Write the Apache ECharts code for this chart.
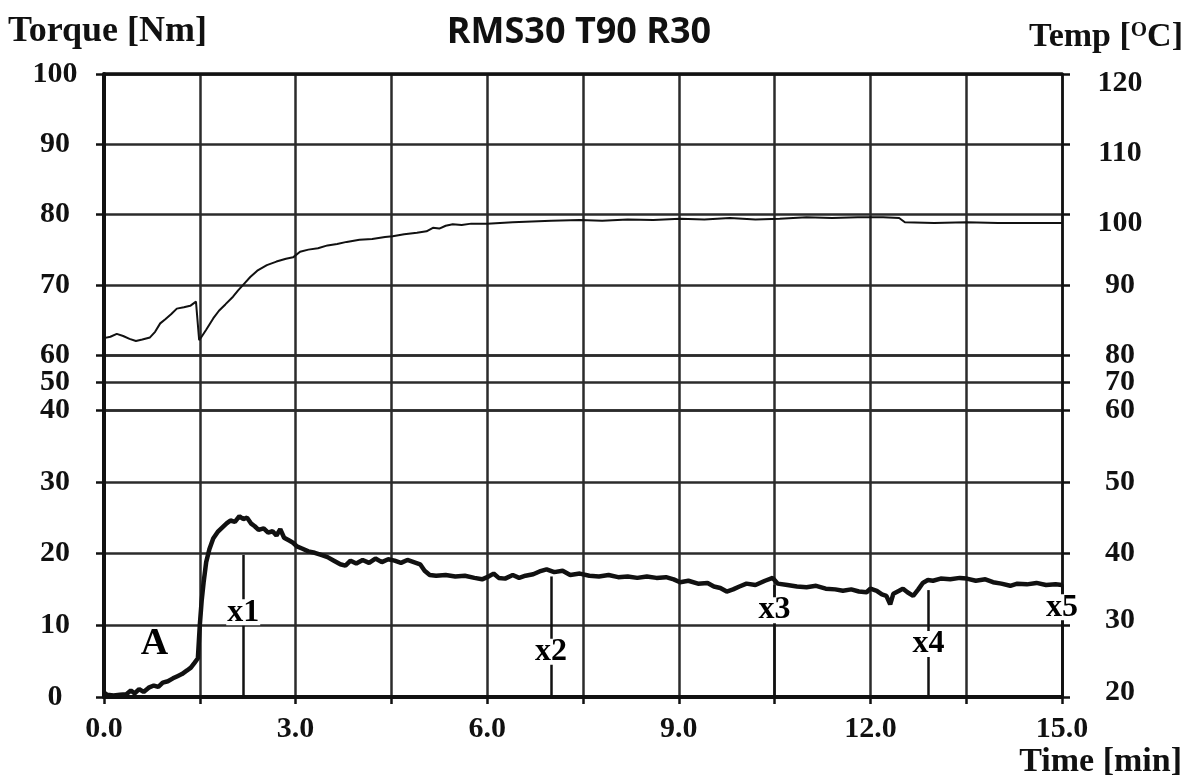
<!DOCTYPE html>
<html>
<head>
<meta charset="utf-8">
<title>RMS30 T90 R30</title>
<script src="https://cdn.jsdelivr.net/npm/echarts/dist/echarts.min.js"></script>
<style>
  html, body { margin: 0; padding: 0; background: #ffffff; }
  #chart { width: 1188px; height: 783px; }
</style>
</head>
<body>
<div id="chart"></div>
<script>
// Torque trace (bottom band, left axis 0–40 Nm)
const torqueTime = [
  0.00, 0.05, 0.15, 0.25, 0.35, 0.42, 0.48, 0.55, 0.62, 0.70, 0.78, 0.85, 0.92, 1.00, 1.08, 1.15,
  1.22, 1.30, 1.36, 1.42, 1.47, 1.50, 1.53, 1.56, 1.60, 1.65, 1.71, 1.78, 1.85, 1.92, 1.98, 2.05,
  2.12, 2.18, 2.24, 2.30, 2.36, 2.42, 2.50, 2.57, 2.64, 2.70, 2.76, 2.82, 2.90, 2.96, 3.02, 3.10,
  3.20, 3.30, 3.40, 3.50, 3.60, 3.70, 3.78, 3.86, 3.95, 4.05, 4.15, 4.25, 4.35, 4.45, 4.55, 4.65,
  4.75, 4.85, 4.95, 5.02, 5.10, 5.20, 5.35, 5.50, 5.65, 5.80, 5.92, 6.00, 6.10, 6.18, 6.28, 6.40,
  6.50, 6.60, 6.72, 6.82, 6.93, 7.05, 7.18, 7.30, 7.45, 7.60, 7.75, 7.90, 8.05, 8.20, 8.35, 8.50,
  8.65, 8.80, 8.92, 9.02, 9.15, 9.30, 9.45, 9.55, 9.65, 9.75, 9.85, 9.95, 10.06, 10.20, 10.35, 10.47,
  10.55, 10.70, 10.85, 11.00, 11.15, 11.30, 11.45, 11.57, 11.70, 11.82, 11.94, 12.00, 12.10, 12.18, 12.25, 12.31,
  12.36, 12.45, 12.51, 12.58, 12.67, 12.75, 12.82, 12.90, 12.98, 13.10, 13.25, 13.40, 13.51, 13.65, 13.80, 13.92,
  14.05, 14.19, 14.30, 14.45, 14.60, 14.75, 14.90, 15.00
];
const torqueValue = [
  0.6, 0.3, 0.2, 0.3, 0.4, 0.9, 0.5, 1.1, 0.7, 1.3, 1.6, 1.4, 2.0, 2.2, 2.6, 2.9,
  3.2, 3.7, 4.1, 4.8, 5.4, 10.0, 13.5, 16.0, 18.8, 20.6, 22.1, 23.0, 23.6, 24.2, 24.6, 24.4,
  25.2, 24.8, 25.0, 24.2, 23.8, 23.3, 23.5, 22.9, 23.1, 22.5, 23.4, 22.2, 21.8, 21.5, 21.0, 20.7,
  20.3, 20.1, 19.8, 19.5, 19.0, 18.5, 18.3, 19.0, 18.6, 19.1, 18.7, 19.3, 18.8, 19.2, 19.0, 18.7,
  19.1, 18.8, 18.5, 17.6, 17.0, 16.9, 17.0, 16.8, 16.9, 16.6, 16.4, 16.7, 17.2, 16.6, 16.5, 17.0,
  16.6, 16.9, 17.1, 17.5, 17.8, 17.4, 17.6, 17.0, 17.2, 16.9, 16.8, 17.0, 16.7, 16.8, 16.6, 16.8,
  16.6, 16.7, 16.4, 16.0, 16.2, 15.8, 15.9, 15.4, 15.2, 14.7, 15.0, 15.4, 15.8, 15.6, 16.2, 16.6,
  15.8, 15.6, 15.4, 15.3, 15.5, 15.1, 15.0, 14.8, 15.0, 14.7, 14.6, 15.1, 14.8, 14.3, 14.1, 12.9,
  14.4, 14.8, 15.1, 14.6, 14.1, 15.0, 15.9, 16.3, 16.2, 16.5, 16.4, 16.6, 16.5, 16.2, 16.4, 16.0,
  15.8, 15.5, 15.8, 15.7, 15.9, 15.6, 15.7, 15.6
];

// Temperature trace (top band, right axis 80–120 °C)
const tempTime = [
  0.00, 0.10, 0.20, 0.30, 0.40, 0.50, 0.60, 0.72, 0.80, 0.88, 0.96, 1.05, 1.14, 1.25, 1.35, 1.44,
  1.47, 1.49, 1.52, 1.60, 1.71, 1.80, 1.90, 2.02, 2.10, 2.20, 2.29, 2.40, 2.55, 2.70, 2.85, 2.96,
  3.07, 3.20, 3.35, 3.50, 3.65, 3.80, 4.00, 4.20, 4.40, 4.52, 4.70, 4.90, 5.05, 5.15, 5.25, 5.35,
  5.46, 5.60, 5.75, 6.00, 6.20, 6.40, 6.70, 7.00, 7.45, 7.80, 8.20, 8.60, 9.02, 9.40, 9.80, 10.20,
  10.58, 11.00, 11.40, 11.80, 12.20, 12.45, 12.54, 13.00, 13.50, 14.00, 14.50, 15.00
];
const tempValue = [
  82.4, 82.6, 83.0, 82.7, 82.3, 82.0, 82.2, 82.5, 83.3, 84.5, 85.1, 85.8, 86.6, 86.8, 87.0, 87.6,
  87.7, 82.1, 82.5, 83.6, 85.2, 86.3, 87.2, 88.3, 89.2, 90.2, 91.1, 92.0, 92.8, 93.3, 93.7, 93.9,
  94.7, 95.0, 95.2, 95.6, 95.8, 96.1, 96.4, 96.5, 96.8, 96.9, 97.2, 97.4, 97.6, 98.1, 98.0, 98.4,
  98.6, 98.5, 98.7, 98.7, 98.8, 98.9, 99.0, 99.1, 99.2, 99.1, 99.3, 99.2, 99.4, 99.3, 99.5, 99.3,
  99.4, 99.6, 99.5, 99.6, 99.6, 99.5, 98.9, 98.8, 98.9, 98.8, 98.8, 98.8
];

// Event markers on the torque trace
const markerNames = ['x1', 'x2', 'x3', 'x4', 'x5'];
const markerTime = [2.18, 7.0, 10.5, 12.91, 15.0];
const markerTop = [19.8, 16.8, 15.6, 14.9, 15.7];
const markerLabelLevel = [11.8, 6.3, 12.1, 7.4, 12.5];
const regionLabel = { name: 'A', time: 0.79, level: 7.4 };

const SERIF = '"Liberation Serif", "Times New Roman", serif';
const INK = '#111111';
const GRIDC = '#2b2b2b';

const pairs = (xs, ys) => xs.map((x, i) => [x, ys[i]]);

const chart = echarts.init(document.getElementById('chart'), null, { renderer: 'canvas' });

const plotLeft = 104, plotRight = 126;
const bands = [
  { top: 74, height: 281 },   // 60–100 Nm / 80–120 °C
  { top: 355, height: 55 },   // 40–60 Nm / 60–80 °C
  { top: 410, height: 287 }   // 0–40 Nm / 20–60 °C
];

const tickLabel = {
  fontFamily: SERIF, fontWeight: 'bold', fontSize: 30, color: INK,
  rich: {
    dn: { fontFamily: SERIF, fontWeight: 'bold', fontSize: 30, color: INK, padding: [18, 0, 0, 0] },
    up: { fontFamily: SERIF, fontWeight: 'bold', fontSize: 30, color: INK, padding: [0, 0, 10, 0] }
  }
};

function xAxisFor(i) {
  const last = i === 2;
  return {
    type: 'value', gridIndex: i, min: 0, max: 15, interval: 1.5,
    position: i === 0 ? 'top' : 'bottom',
    axisLine: { show: i !== 1, onZero: false, lineStyle: { color: INK, width: last ? 4 : 3.5 } },
    axisTick: { show: last, inside: false, length: 7, lineStyle: { color: INK, width: 2.5 } },
    axisLabel: last ? Object.assign({}, tickLabel, {
      show: true, margin: 17, showMinLabel: true, showMaxLabel: true,
      formatter: v => (Math.round(v * 10) % 30 === 0 ? v.toFixed(1) : '')
    }) : { show: false },
    splitLine: { show: true, lineStyle: { color: GRIDC, width: 2.5 } }
  };
}

function yAxisFor(i, side, min, max, showMin, showMax, fmt) {
  const left = side === 'left';
  return {
    type: 'value', gridIndex: i, position: side, min: min, max: max, interval: 10,
    axisLine: { show: true, onZero: false, lineStyle: { color: INK, width: left ? 4 : 2.5 } },
    axisTick: { show: true, inside: false, length: 8, lineStyle: { color: INK, width: 2.5 } },
    axisLabel: Object.assign({}, tickLabel, {
      show: true, align: 'center', margin: left ? 49 : 58,
      showMinLabel: showMin, showMaxLabel: showMax,
      formatter: fmt || (v => String(v))
    }),
    splitLine: { show: left, lineStyle: { color: GRIDC, width: 2.5 } }
  };
}

const option = {
  backgroundColor: '#ffffff',
  animation: false,
  grid: bands.map(b => ({
    left: plotLeft, right: plotRight, top: b.top, height: b.height,
    containLabel: false, outerBoundsMode: 'none', show: false
  })),
  xAxis: [xAxisFor(0), xAxisFor(1), xAxisFor(2)],
  yAxis: [
    yAxisFor(0, 'left', 60, 100, true, true),
    yAxisFor(0, 'right', 80, 120, true, true, v => (v >= 100 ? '{dn|' + v + '}' : String(v))),
    yAxisFor(1, 'left', 40, 60, false, false),
    yAxisFor(1, 'right', 60, 80, false, false),
    yAxisFor(2, 'left', 0, 40, true, true),
    yAxisFor(2, 'right', 20, 60, true, true, v => (v <= 30 ? '{up|' + v + '}' : String(v)))
  ],
  graphic: [
    {
      type: 'text', x: 579, y: 33, z: 50,
      style: {
        text: 'RMS30 T90 R30', fill: INK, align: 'center', verticalAlign: 'middle',
        font: 'bold 36px "Open Sans", "Noto Sans", sans-serif'
      }
    },
    {
      type: 'text', x: 8, y: 32, z: 50,
      style: {
        text: 'Torque [Nm]', fill: INK, align: 'left', verticalAlign: 'middle',
        font: 'bold 36px ' + SERIF
      }
    },
    {
      type: 'text', x: 1183, y: 37, z: 50,
      style: {
        text: 'Temp [{sup|O}C]', fill: INK, align: 'right', verticalAlign: 'middle',
        font: 'bold 34px ' + SERIF,
        rich: {
          sup: { font: 'bold 21px ' + SERIF, fill: INK, verticalAlign: 'top', lineHeight: 34 }
        }
      }
    },
    {
      type: 'text', x: 1182, y: 762, z: 50,
      style: {
        text: 'Time [min]', fill: INK, align: 'right', verticalAlign: 'middle',
        font: 'bold 34px ' + SERIF
      }
    }
  ],
  series: [
    {
      name: 'Temperature', type: 'line', xAxisIndex: 0, yAxisIndex: 1,
      data: pairs(tempTime, tempValue), showSymbol: false, symbol: 'none',
      lineStyle: { color: INK, width: 2 }, z: 5, silent: true
    },
    {
      name: 'Torque', type: 'line', xAxisIndex: 2, yAxisIndex: 4,
      data: pairs(torqueTime, torqueValue), showSymbol: false, symbol: 'none',
      lineStyle: { color: INK, width: 4.5 }, z: 5, silent: true,
      markLine: {
        silent: true, symbol: ['none', 'none'], animation: false,
        label: { show: false },
        lineStyle: { color: INK, width: 2.5, type: 'solid' },
        emphasis: { disabled: true },
        data: markerTime.map((t, i) => [{ coord: [t, markerTop[i]] }, { coord: [t, 0] }])
      }
    },
    {
      name: 'Labels', type: 'scatter', xAxisIndex: 2, yAxisIndex: 4,
      zlevel: 2, z: 10, silent: true, symbolSize: 0,
      data: markerNames.map((n, i) => ({ value: [markerTime[i], markerLabelLevel[i]], name: n }))
        .concat([{ value: [regionLabel.time, regionLabel.level], name: regionLabel.name,
          label: { fontSize: 38, backgroundColor: 'transparent' } }]),
      itemStyle: { opacity: 0 },
      label: {
        show: true, position: 'inside', formatter: p => p.name,
        fontFamily: SERIF, fontWeight: 'bold', fontSize: 32, color: '#000000', opacity: 1,
        backgroundColor: '#ffffff', padding: [0, 1], lineHeight: 26
      },
      labelLayout: { hideOverlap: false }
    }
  ]
};

chart.setOption(option);
</script>
</body>
</html>
